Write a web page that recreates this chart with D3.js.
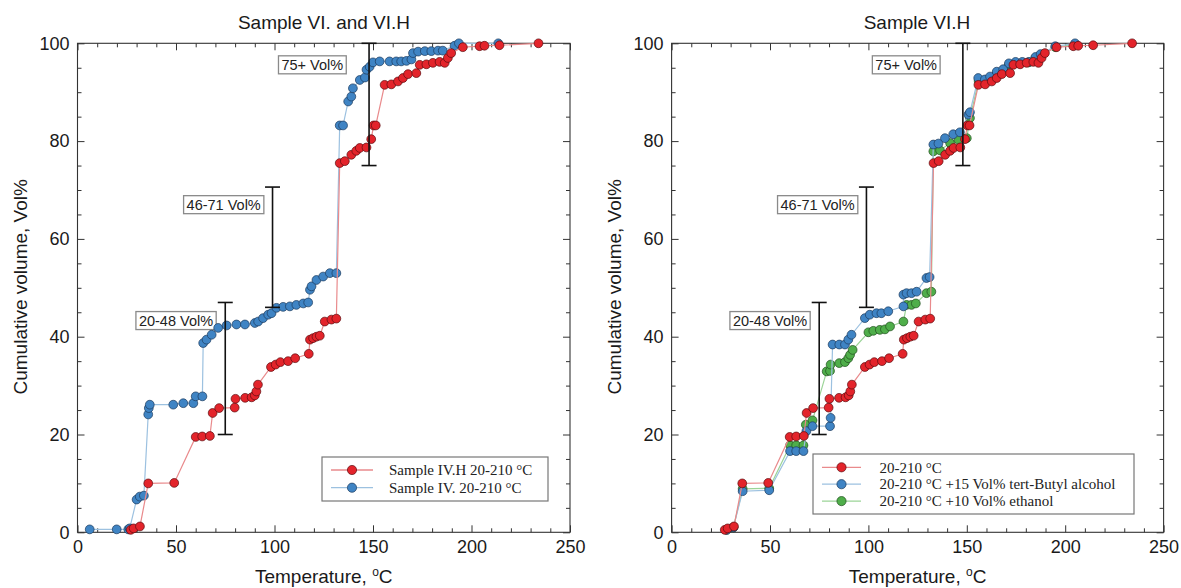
<!DOCTYPE html>
<html>
<head>
<meta charset="utf-8">
<script src="https://cdn.jsdelivr.net/npm/d3@7"></script>
<style>
  body { margin: 0; background: #fff; }
  svg { display: block; font-family: 'Liberation Sans', Arial, sans-serif; }
</style>
</head>
<body>
<svg id="chart" width="1181" height="588"></svg>
<script>
const xTicks = [0, 50, 100, 150, 200, 250]
const yTicks = [0, 20, 40, 60, 80, 100]

// [temperature °C, cumulative Vol%]
// Sample IV.H 20-210 °C (same run in both panels)
const sampleIVH = [
  [27, 0.5], [28.5, 0.8], [31.7, 1.2], [35.9, 10], [49.1, 10.1], [60, 19.5], [63.3, 19.6],
  [67.2, 19.7], [68.6, 24.4], [71.9, 25.4], [79.8, 25.5], [80.2, 27.3], [85.1, 27.5],
  [88.4, 27.6], [90, 28], [90.8, 28.8], [91.6, 30.2], [98.2, 33.8], [100.6, 34.3],
  [103, 34.8], [106.9, 35], [110.5, 35.6], [117.4, 36.5], [118, 39.4], [119.6, 39.7],
  [121.3, 40], [123, 40.2], [125.5, 43.1], [128.9, 43.5], [131.4, 43.7], [133.1, 75.5],
  [135.7, 75.9], [139, 77.2], [141.5, 78], [143.3, 78.6], [146.7, 78.7], [149.1, 80.4],
  [150.3, 83.2], [151.4, 83.2], [155.9, 91.5], [159.3, 91.6], [162.7, 92.2], [165.2, 92.9],
  [167.8, 93.7], [172, 93.9], [173.7, 95.6], [177.1, 95.7], [180.4, 96], [183.8, 96.2],
  [186.4, 96], [188, 97], [189.7, 98], [195.6, 99.2], [204.1, 99.4], [206.6, 99.5],
  [214.2, 99.6], [234, 100]
]

// Sample IV. 20-210 °C
const sampleIV = [
  [6.2, 0.6], [19.9, 0.6], [25.8, 0.6], [26.5, 0.8], [30, 6.7], [31.6, 7.3], [33.7, 7.5],
  [35.9, 24.1], [36.2, 25.4], [36.7, 26.1], [48.6, 26.1], [53.7, 26.4], [58.8, 26.4],
  [60, 27.8], [63.4, 27.8], [63.8, 38.7], [65.5, 39.4], [68.1, 40.4], [71.4, 41.8],
  [75.7, 42.3], [80.7, 42.5], [85, 42.5], [90, 42.8], [91.7, 43.1], [94.2, 43.8],
  [96.8, 44.5], [98.5, 44.8], [101, 45.9], [104.4, 46.1], [107.8, 46.2], [111.1, 46.5],
  [114.6, 46.8], [117.1, 47], [118, 49.6], [118.8, 50.3], [121.3, 51.6], [124.7, 52.3],
  [128.1, 53], [131.4, 53], [133.1, 83.2], [134.8, 83.2], [137.4, 88.1], [139, 89.1],
  [139.8, 90.8], [143.3, 92.5], [145.9, 93], [146.7, 94.6], [148.3, 95.2], [150, 96.1],
  [153.4, 96.3], [158.4, 96.3], [161.8, 96.3], [164.3, 96.3], [167, 96.4], [169.5, 96.7],
  [170.3, 98], [172.9, 98.3], [176.3, 98.4], [179.6, 98.4], [183, 98.5], [185.4, 98.5],
  [191.4, 99.5], [193.6, 100], [213.6, 100]
]

// 20-210 °C +15 Vol% tert-Butyl alcohol
const withButyl = [
  [28, 0.5], [31.4, 1], [36.1, 8.4], [49.6, 8.6], [60.2, 16.6], [63.3, 16.6], [67, 16.6],
  [68.5, 20.7], [71.6, 21.7], [80.5, 21.7], [80.8, 23.4], [81.8, 38.4], [85.2, 38.4],
  [88.1, 38.4], [89.8, 39.4], [91.4, 40.4], [98.2, 43.8], [100.7, 44.5], [104.1, 44.8],
  [106.6, 44.8], [110.1, 45.2], [117.8, 46.2], [117.8, 48.6], [119.4, 48.9], [121.9, 48.9],
  [124.5, 49.2], [129.5, 52], [131.1, 52.2], [133, 79.3], [135.6, 79.5], [138.9, 80.6],
  [143.1, 81.4], [146.5, 81.8], [150.8, 85.4], [151.6, 85.9], [155.8, 92.9], [159.2, 92.6],
  [161.8, 93.2], [165.2, 94.2], [168.5, 94.7], [171.4, 95.9], [174.8, 96.2], [178.2, 96.2],
  [181.5, 96.2], [184.9, 97.2], [187.5, 97.8], [195, 99.4], [205, 100]
]

// 20-210 °C +10 Vol% ethanol
const withEthanol = [
  [28, 0.5], [31.4, 1], [36.1, 8.9], [49.6, 9], [60.2, 17.8], [63.3, 17.8], [67, 17.8],
  [68.2, 22], [71.6, 22.9], [78.8, 32.9], [80.5, 33], [80.8, 34.3], [85.2, 34.6],
  [88.1, 34.8], [89.8, 35.6], [90.7, 36.3], [92, 37.3], [100, 40.9], [102.5, 41.2],
  [105.8, 41.4], [108.4, 41.5], [111, 42.1], [117.8, 43.1], [119.4, 46.5], [121.9, 46.5],
  [124.1, 46.8], [129.5, 48.9], [132, 49.2], [133, 77.9], [136.4, 78.1], [141.5, 79.6],
  [145.7, 80.3], [150, 80.6], [151.6, 84.7], [156, 92.3], [159.2, 92.3], [162, 92.8],
  [165.2, 93.8], [168.5, 94.4], [171.4, 95.6], [174.8, 96], [181.5, 96.1], [184.9, 97],
  [187.5, 97.6], [195, 99.2], [205, 99.8]
]

// fraction ranges: bar temperature, low, high
const rangeLabels = ['20-48 Vol%', '46-71 Vol%', '75+ Vol%']
const rangeTemps = [75, 99, 148]
const rangeLow = [20, 46, 75]
const rangeHigh = [47, 70.6, 100]

const red = { fill: '#e3242b', stroke: '#5c0c0e', line: '#e98a8c' }
const blue = { fill: '#3f84c4', stroke: '#1b3a5c', line: '#9cc1e0' }
const green = { fill: '#4fae4a', stroke: '#1f4d1c', line: '#9bd497' }

const svg = d3.select('#chart')
const plotTop = 43.3, plotBottom = 532.3

drawPanel({
  left: 77.5, right: 570,
  title: 'Sample VI. and VI.H', titleX: 324,
  series: [
    { data: sampleIV, style: blue, name: 'Sample IV. 20-210 °C' },
    { data: sampleIVH, style: red, name: 'Sample IV.H 20-210 °C' }
  ],
  legendOrder: [1, 0],
  legend: { x: 322, y: 457, w: 226, h: 44, row0: 13, rowGap: 17.7, lineX: 9, lineW: 42, textX: 67 }
})

drawPanel({
  left: 671.6, right: 1163.6,
  title: 'Sample VI.H', titleX: 917,
  series: [
    { data: withEthanol, style: green, name: '20-210 °C +10 Vol% ethanol' },
    { data: withButyl, style: blue, name: '20-210 °C +15 Vol% tert-Butyl alcohol' },
    { data: sampleIVH, style: red, name: '20-210 °C' }
  ],
  legendOrder: [2, 1, 0],
  legend: { x: 813, y: 454, w: 321, h: 60, row0: 13.3, rowGap: 16.9, lineX: 9, lineW: 39, textX: 66.5 }
})

function drawPanel(p) {
  const x = d3.scaleLinear().domain([0, 250]).range([p.left, p.right])
  const y = d3.scaleLinear().domain([0, 100]).range([plotBottom, plotTop])
  const g = svg.append('g')
  const minorX = d3.range(0, 251, 10).filter(v => v % 50 !== 0)
  const minorY = d3.range(0, 101, 5).filter(v => v % 20 !== 0)

  const axes = [
    [d3.axisBottom(x).tickValues(xTicks).tickSizeInner(-7), `translate(0,${plotBottom})`, true],
    [d3.axisBottom(x).tickValues(minorX).tickSizeInner(-4), `translate(0,${plotBottom})`, false],
    [d3.axisTop(x).tickValues(xTicks).tickSizeInner(-7), `translate(0,${plotTop})`, false],
    [d3.axisTop(x).tickValues(minorX).tickSizeInner(-4), `translate(0,${plotTop})`, false],
    [d3.axisLeft(y).tickValues(yTicks).tickSizeInner(-7), `translate(${p.left},0)`, true],
    [d3.axisLeft(y).tickValues(minorY).tickSizeInner(-4), `translate(${p.left},0)`, false],
    [d3.axisRight(y).tickValues(yTicks).tickSizeInner(-7), `translate(${p.right},0)`, false],
    [d3.axisRight(y).tickValues(minorY).tickSizeInner(-4), `translate(${p.right},0)`, false]
  ]
  axes.forEach(([ax, tr, labels]) => {
    ax.tickSizeOuter(0).tickPadding(labels ? 8 : 0)
    if (!labels) ax.tickFormat('')
    const a = g.append('g').attr('transform', tr).call(ax)
    a.select('.domain').remove()
    a.selectAll('line').attr('stroke', '#333')
    a.selectAll('text').attr('fill', '#1a1a1a').style('font-size', '18px')
  })

  g.append('rect')
    .attr('x', p.left).attr('y', plotTop)
    .attr('width', p.right - p.left).attr('height', plotBottom - plotTop)
    .attr('fill', 'none').attr('stroke', '#333').attr('stroke-width', 1.1)

  // titles and axis labels
  g.append('text').attr('x', p.titleX).attr('y', 29)
    .attr('text-anchor', 'middle').style('font-size', '19px').attr('fill', '#1a1a1a')
    .text(p.title)

  const xl = g.append('text').attr('x', (p.left + p.right) / 2).attr('y', 583)
    .attr('text-anchor', 'middle').style('font-size', '19px').attr('fill', '#1a1a1a')
  xl.append('tspan').text('Temperature, ')
  xl.append('tspan').attr('dy', -7).style('font-size', '12px').text('o')
  xl.append('tspan').attr('dy', 7).text('C')

  g.append('text')
    .attr('transform', `translate(${p.left - 57},${(plotTop + plotBottom) / 2 - 1}) rotate(-90)`)
    .attr('text-anchor', 'middle').attr('dy', '0.35em')
    .style('font-size', '19px').attr('fill', '#1a1a1a')
    .text('Cumulative volume, Vol%')

  // range label boxes
  const labelT = [50, 74.2, 119.2]
  const labelV = [43.3, 67, 95.6]
  rangeLabels.forEach((lab, i) => {
    const bg = g.append('rect')
    const t = g.append('text').attr('x', x(labelT[i])).attr('y', y(labelV[i]))
      .attr('text-anchor', 'middle').attr('dy', '0.36em')
      .style('font-size', '14.5px').attr('fill', '#222').text(lab)
    const bb = t.node().getBBox()
    bg.attr('x', bb.x - 3).attr('y', y(labelV[i]) - 9)
      .attr('width', bb.width + 6).attr('height', 18)
      .attr('fill', '#fff').attr('stroke', '#8a8a8a').attr('stroke-width', 1.3)
  })

  // series
  const line = d3.line().x(d => x(d[0])).y(d => y(d[1]))
  p.series.forEach(s => {
    g.append('path').datum(s.data)
      .attr('fill', 'none').attr('stroke', s.style.line).attr('stroke-width', 1.2)
      .attr('d', line)
    g.append('g').selectAll('circle').data(s.data).join('circle')
      .attr('cx', d => x(d[0])).attr('cy', d => y(d[1])).attr('r', 4.4)
      .attr('fill', s.style.fill).attr('stroke', s.style.stroke).attr('stroke-width', 0.7)
  })

  // range bars
  rangeTemps.forEach((t, i) => {
    const bx = x(t)
    g.append('line').attr('x1', bx).attr('x2', bx)
      .attr('y1', y(rangeLow[i])).attr('y2', y(rangeHigh[i]))
      .attr('stroke', '#111').attr('stroke-width', 1.6)
    ;[rangeLow[i], rangeHigh[i]].forEach(v => {
      g.append('line').attr('x1', bx - 7.5).attr('x2', bx + 7.5)
        .attr('y1', y(v)).attr('y2', y(v))
        .attr('stroke', '#111').attr('stroke-width', 1.6)
    })
  })

  // legend
  const L = p.legend
  const lg = g.append('g').attr('transform', `translate(${L.x},${L.y})`)
  lg.append('rect').attr('width', L.w).attr('height', L.h)
    .attr('fill', '#fff').attr('stroke', '#777').attr('stroke-width', 1.2)
  p.legendOrder.forEach((si, row) => {
    const s = p.series[si]
    const ry = L.row0 + row * L.rowGap
    lg.append('line').attr('x1', L.lineX).attr('x2', L.lineX + L.lineW)
      .attr('y1', ry).attr('y2', ry).attr('stroke', s.style.line).attr('stroke-width', 1.3)
    lg.append('circle').attr('cx', L.lineX + L.lineW / 2).attr('cy', ry).attr('r', 4.6)
      .attr('fill', s.style.fill).attr('stroke', s.style.stroke).attr('stroke-width', 0.7)
    lg.append('text').attr('x', L.textX).attr('y', ry).attr('dy', '0.35em')
      .style('font-family', "'Liberation Serif', 'Times New Roman', serif")
      .style('font-size', '15px').attr('fill', '#222').text(s.name)
  })
}
</script>
</body>
</html>
